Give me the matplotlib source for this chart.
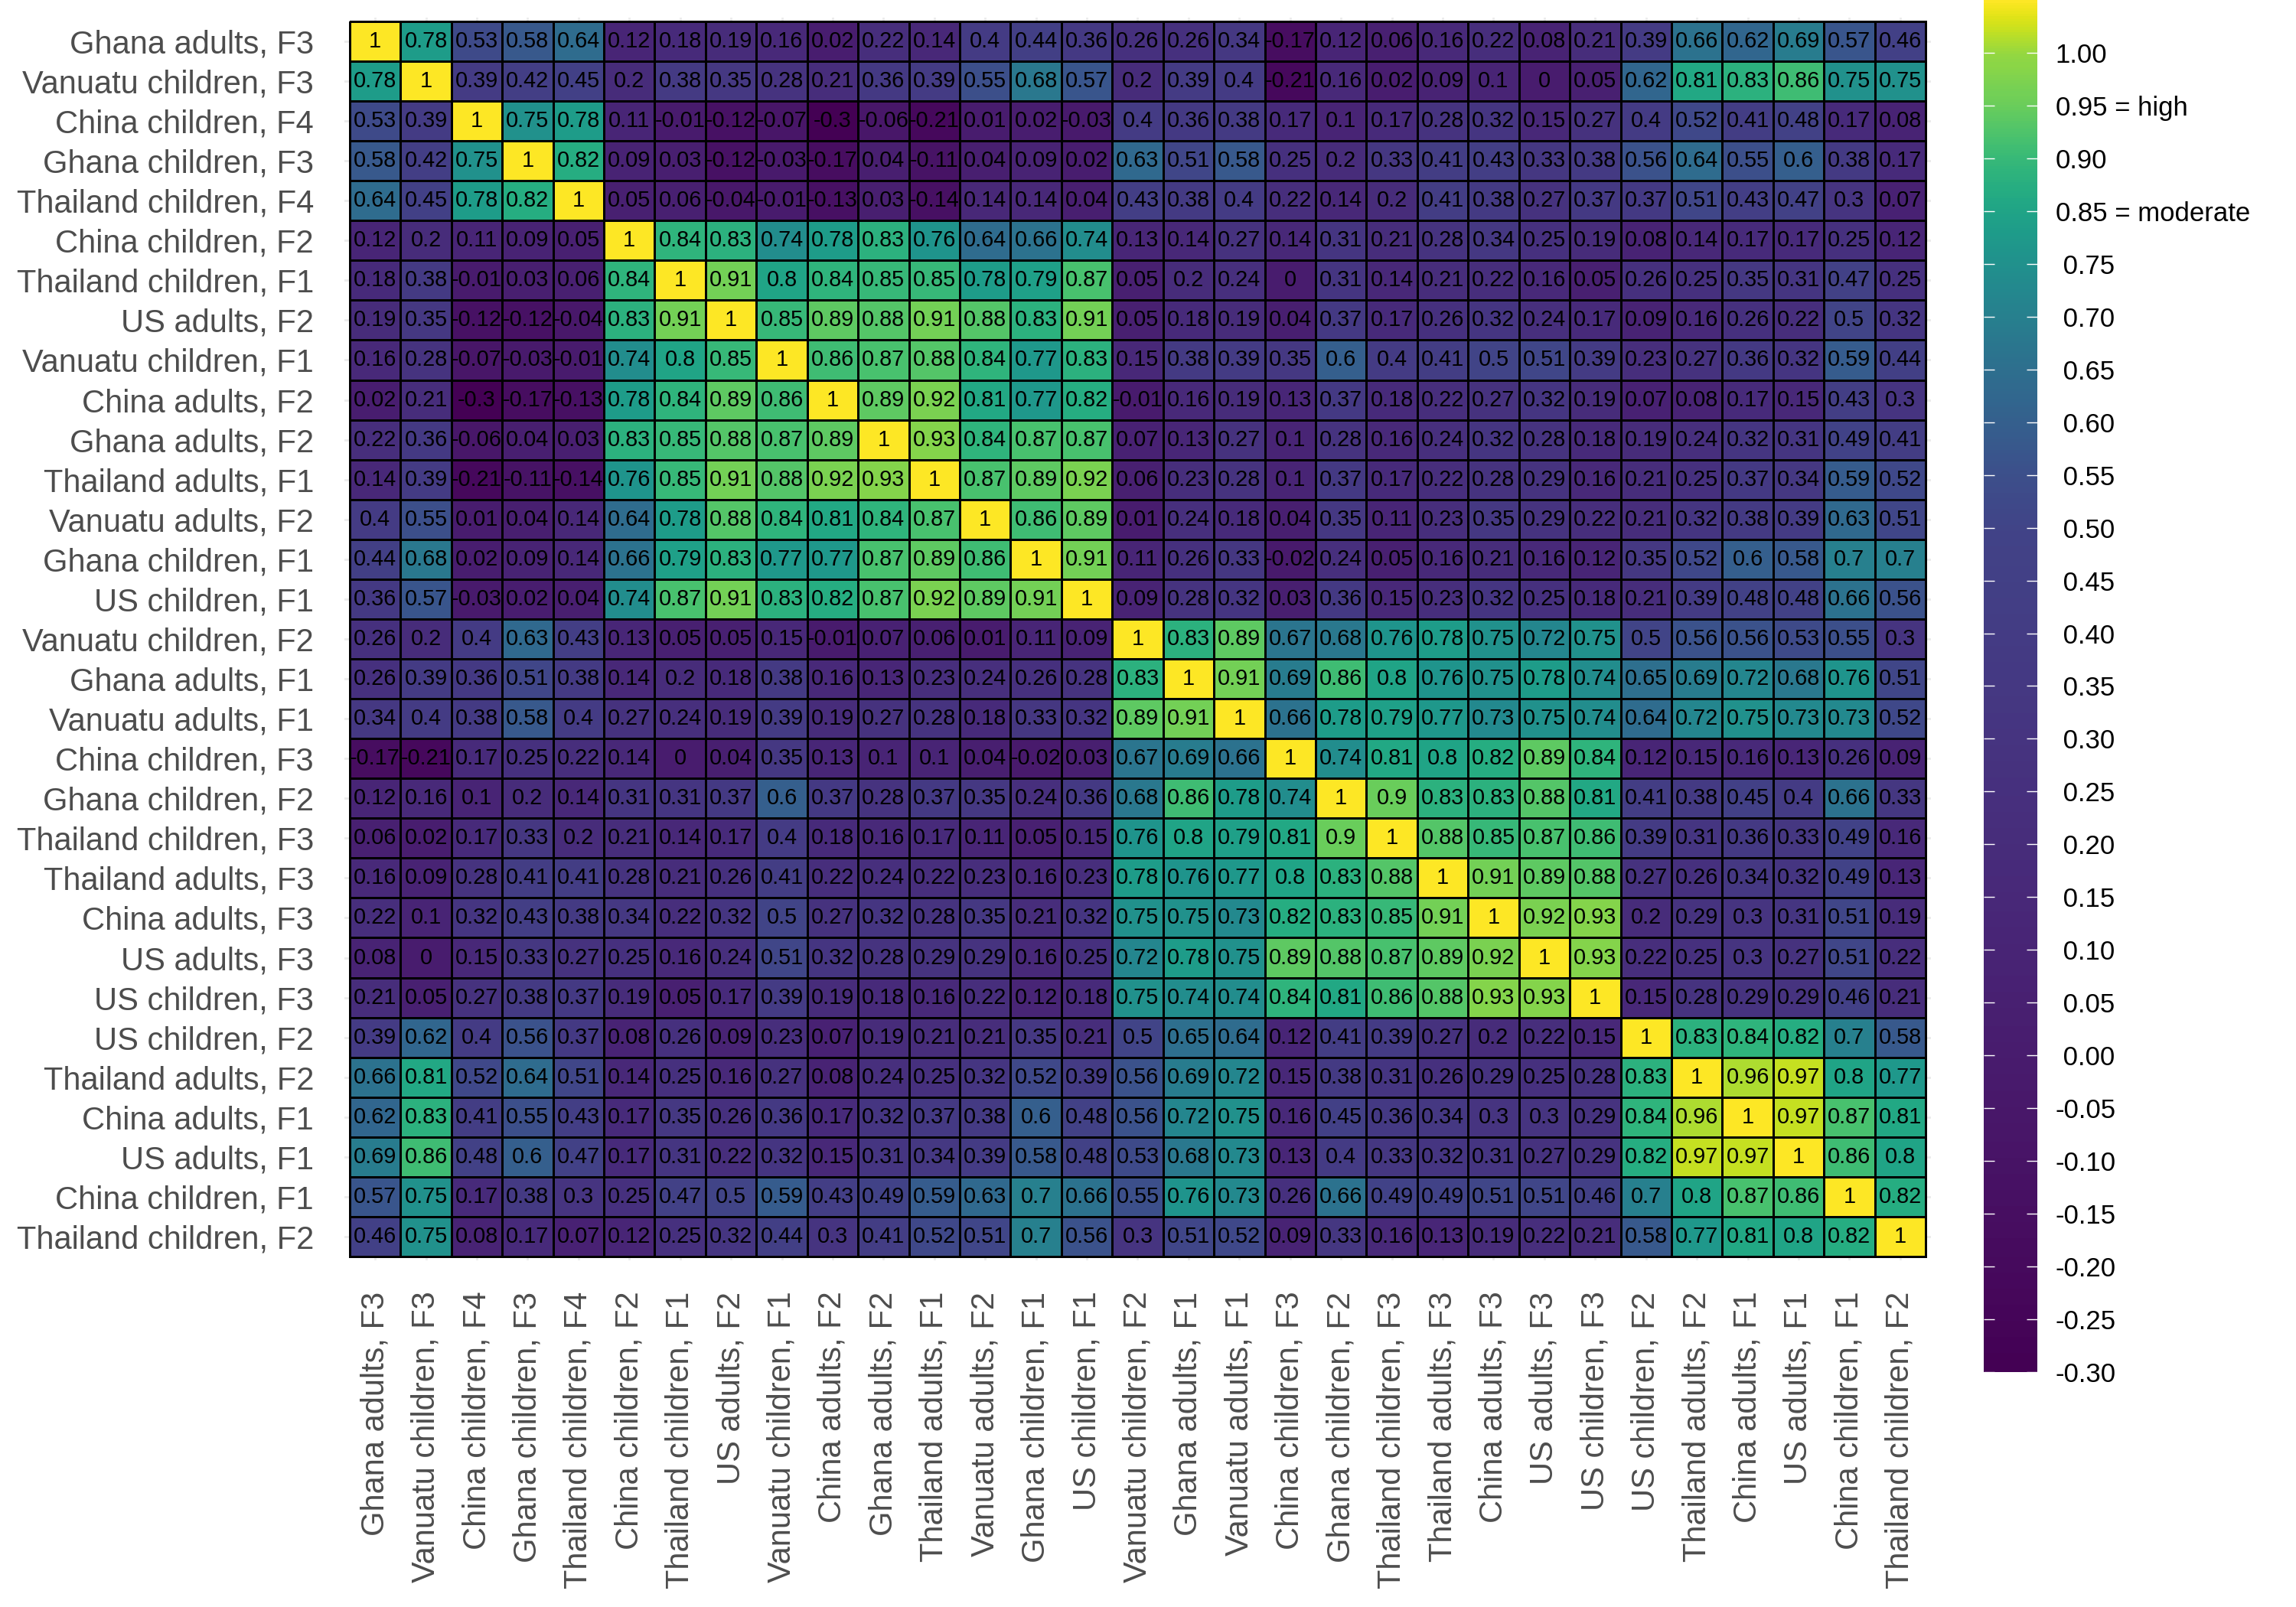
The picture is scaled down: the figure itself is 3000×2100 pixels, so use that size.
import matplotlib.pyplot as plt
import numpy as np
from matplotlib.colors import ListedColormap

# row / column order of the matrix (top to bottom, left to right)
labels = [
    'Ghana adults, F3', 'Vanuatu children, F3', 'China children, F4', 'Ghana children, F3',
    'Thailand children, F4', 'China children, F2', 'Thailand children, F1', 'US adults, F2',
    'Vanuatu children, F1', 'China adults, F2', 'Ghana adults, F2', 'Thailand adults, F1',
    'Vanuatu adults, F2', 'Ghana children, F1', 'US children, F1', 'Vanuatu children, F2',
    'Ghana adults, F1', 'Vanuatu adults, F1', 'China children, F3', 'Ghana children, F2',
    'Thailand children, F3', 'Thailand adults, F3', 'China adults, F3', 'US adults, F3',
    'US children, F3', 'US children, F2', 'Thailand adults, F2', 'China adults, F1',
    'US adults, F1', 'China children, F1', 'Thailand children, F2',
]

corr_rows = [
    [1, 0.78, 0.53, 0.58, 0.64, 0.12, 0.18, 0.19, 0.16, 0.02, 0.22, 0.14, 0.4, 0.44, 0.36, 0.26, 0.26, 0.34, -0.17, 0.12, 0.06, 0.16, 0.22, 0.08, 0.21, 0.39, 0.66, 0.62, 0.69, 0.57, 0.46],
    [0.78, 1, 0.39, 0.42, 0.45, 0.2, 0.38, 0.35, 0.28, 0.21, 0.36, 0.39, 0.55, 0.68, 0.57, 0.2, 0.39, 0.4, -0.21, 0.16, 0.02, 0.09, 0.1, 0, 0.05, 0.62, 0.81, 0.83, 0.86, 0.75, 0.75],
    [0.53, 0.39, 1, 0.75, 0.78, 0.11, -0.01, -0.12, -0.07, -0.3, -0.06, -0.21, 0.01, 0.02, -0.03, 0.4, 0.36, 0.38, 0.17, 0.1, 0.17, 0.28, 0.32, 0.15, 0.27, 0.4, 0.52, 0.41, 0.48, 0.17, 0.08],
    [0.58, 0.42, 0.75, 1, 0.82, 0.09, 0.03, -0.12, -0.03, -0.17, 0.04, -0.11, 0.04, 0.09, 0.02, 0.63, 0.51, 0.58, 0.25, 0.2, 0.33, 0.41, 0.43, 0.33, 0.38, 0.56, 0.64, 0.55, 0.6, 0.38, 0.17],
    [0.64, 0.45, 0.78, 0.82, 1, 0.05, 0.06, -0.04, -0.01, -0.13, 0.03, -0.14, 0.14, 0.14, 0.04, 0.43, 0.38, 0.4, 0.22, 0.14, 0.2, 0.41, 0.38, 0.27, 0.37, 0.37, 0.51, 0.43, 0.47, 0.3, 0.07],
    [0.12, 0.2, 0.11, 0.09, 0.05, 1, 0.84, 0.83, 0.74, 0.78, 0.83, 0.76, 0.64, 0.66, 0.74, 0.13, 0.14, 0.27, 0.14, 0.31, 0.21, 0.28, 0.34, 0.25, 0.19, 0.08, 0.14, 0.17, 0.17, 0.25, 0.12],
    [0.18, 0.38, -0.01, 0.03, 0.06, 0.84, 1, 0.91, 0.8, 0.84, 0.85, 0.85, 0.78, 0.79, 0.87, 0.05, 0.2, 0.24, 0, 0.31, 0.14, 0.21, 0.22, 0.16, 0.05, 0.26, 0.25, 0.35, 0.31, 0.47, 0.25],
    [0.19, 0.35, -0.12, -0.12, -0.04, 0.83, 0.91, 1, 0.85, 0.89, 0.88, 0.91, 0.88, 0.83, 0.91, 0.05, 0.18, 0.19, 0.04, 0.37, 0.17, 0.26, 0.32, 0.24, 0.17, 0.09, 0.16, 0.26, 0.22, 0.5, 0.32],
    [0.16, 0.28, -0.07, -0.03, -0.01, 0.74, 0.8, 0.85, 1, 0.86, 0.87, 0.88, 0.84, 0.77, 0.83, 0.15, 0.38, 0.39, 0.35, 0.6, 0.4, 0.41, 0.5, 0.51, 0.39, 0.23, 0.27, 0.36, 0.32, 0.59, 0.44],
    [0.02, 0.21, -0.3, -0.17, -0.13, 0.78, 0.84, 0.89, 0.86, 1, 0.89, 0.92, 0.81, 0.77, 0.82, -0.01, 0.16, 0.19, 0.13, 0.37, 0.18, 0.22, 0.27, 0.32, 0.19, 0.07, 0.08, 0.17, 0.15, 0.43, 0.3],
    [0.22, 0.36, -0.06, 0.04, 0.03, 0.83, 0.85, 0.88, 0.87, 0.89, 1, 0.93, 0.84, 0.87, 0.87, 0.07, 0.13, 0.27, 0.1, 0.28, 0.16, 0.24, 0.32, 0.28, 0.18, 0.19, 0.24, 0.32, 0.31, 0.49, 0.41],
    [0.14, 0.39, -0.21, -0.11, -0.14, 0.76, 0.85, 0.91, 0.88, 0.92, 0.93, 1, 0.87, 0.89, 0.92, 0.06, 0.23, 0.28, 0.1, 0.37, 0.17, 0.22, 0.28, 0.29, 0.16, 0.21, 0.25, 0.37, 0.34, 0.59, 0.52],
    [0.4, 0.55, 0.01, 0.04, 0.14, 0.64, 0.78, 0.88, 0.84, 0.81, 0.84, 0.87, 1, 0.86, 0.89, 0.01, 0.24, 0.18, 0.04, 0.35, 0.11, 0.23, 0.35, 0.29, 0.22, 0.21, 0.32, 0.38, 0.39, 0.63, 0.51],
    [0.44, 0.68, 0.02, 0.09, 0.14, 0.66, 0.79, 0.83, 0.77, 0.77, 0.87, 0.89, 0.86, 1, 0.91, 0.11, 0.26, 0.33, -0.02, 0.24, 0.05, 0.16, 0.21, 0.16, 0.12, 0.35, 0.52, 0.6, 0.58, 0.7, 0.7],
    [0.36, 0.57, -0.03, 0.02, 0.04, 0.74, 0.87, 0.91, 0.83, 0.82, 0.87, 0.92, 0.89, 0.91, 1, 0.09, 0.28, 0.32, 0.03, 0.36, 0.15, 0.23, 0.32, 0.25, 0.18, 0.21, 0.39, 0.48, 0.48, 0.66, 0.56],
    [0.26, 0.2, 0.4, 0.63, 0.43, 0.13, 0.05, 0.05, 0.15, -0.01, 0.07, 0.06, 0.01, 0.11, 0.09, 1, 0.83, 0.89, 0.67, 0.68, 0.76, 0.78, 0.75, 0.72, 0.75, 0.5, 0.56, 0.56, 0.53, 0.55, 0.3],
    [0.26, 0.39, 0.36, 0.51, 0.38, 0.14, 0.2, 0.18, 0.38, 0.16, 0.13, 0.23, 0.24, 0.26, 0.28, 0.83, 1, 0.91, 0.69, 0.86, 0.8, 0.76, 0.75, 0.78, 0.74, 0.65, 0.69, 0.72, 0.68, 0.76, 0.51],
    [0.34, 0.4, 0.38, 0.58, 0.4, 0.27, 0.24, 0.19, 0.39, 0.19, 0.27, 0.28, 0.18, 0.33, 0.32, 0.89, 0.91, 1, 0.66, 0.78, 0.79, 0.77, 0.73, 0.75, 0.74, 0.64, 0.72, 0.75, 0.73, 0.73, 0.52],
    [-0.17, -0.21, 0.17, 0.25, 0.22, 0.14, 0, 0.04, 0.35, 0.13, 0.1, 0.1, 0.04, -0.02, 0.03, 0.67, 0.69, 0.66, 1, 0.74, 0.81, 0.8, 0.82, 0.89, 0.84, 0.12, 0.15, 0.16, 0.13, 0.26, 0.09],
    [0.12, 0.16, 0.1, 0.2, 0.14, 0.31, 0.31, 0.37, 0.6, 0.37, 0.28, 0.37, 0.35, 0.24, 0.36, 0.68, 0.86, 0.78, 0.74, 1, 0.9, 0.83, 0.83, 0.88, 0.81, 0.41, 0.38, 0.45, 0.4, 0.66, 0.33],
    [0.06, 0.02, 0.17, 0.33, 0.2, 0.21, 0.14, 0.17, 0.4, 0.18, 0.16, 0.17, 0.11, 0.05, 0.15, 0.76, 0.8, 0.79, 0.81, 0.9, 1, 0.88, 0.85, 0.87, 0.86, 0.39, 0.31, 0.36, 0.33, 0.49, 0.16],
    [0.16, 0.09, 0.28, 0.41, 0.41, 0.28, 0.21, 0.26, 0.41, 0.22, 0.24, 0.22, 0.23, 0.16, 0.23, 0.78, 0.76, 0.77, 0.8, 0.83, 0.88, 1, 0.91, 0.89, 0.88, 0.27, 0.26, 0.34, 0.32, 0.49, 0.13],
    [0.22, 0.1, 0.32, 0.43, 0.38, 0.34, 0.22, 0.32, 0.5, 0.27, 0.32, 0.28, 0.35, 0.21, 0.32, 0.75, 0.75, 0.73, 0.82, 0.83, 0.85, 0.91, 1, 0.92, 0.93, 0.2, 0.29, 0.3, 0.31, 0.51, 0.19],
    [0.08, 0, 0.15, 0.33, 0.27, 0.25, 0.16, 0.24, 0.51, 0.32, 0.28, 0.29, 0.29, 0.16, 0.25, 0.72, 0.78, 0.75, 0.89, 0.88, 0.87, 0.89, 0.92, 1, 0.93, 0.22, 0.25, 0.3, 0.27, 0.51, 0.22],
    [0.21, 0.05, 0.27, 0.38, 0.37, 0.19, 0.05, 0.17, 0.39, 0.19, 0.18, 0.16, 0.22, 0.12, 0.18, 0.75, 0.74, 0.74, 0.84, 0.81, 0.86, 0.88, 0.93, 0.93, 1, 0.15, 0.28, 0.29, 0.29, 0.46, 0.21],
    [0.39, 0.62, 0.4, 0.56, 0.37, 0.08, 0.26, 0.09, 0.23, 0.07, 0.19, 0.21, 0.21, 0.35, 0.21, 0.5, 0.65, 0.64, 0.12, 0.41, 0.39, 0.27, 0.2, 0.22, 0.15, 1, 0.83, 0.84, 0.82, 0.7, 0.58],
    [0.66, 0.81, 0.52, 0.64, 0.51, 0.14, 0.25, 0.16, 0.27, 0.08, 0.24, 0.25, 0.32, 0.52, 0.39, 0.56, 0.69, 0.72, 0.15, 0.38, 0.31, 0.26, 0.29, 0.25, 0.28, 0.83, 1, 0.96, 0.97, 0.8, 0.77],
    [0.62, 0.83, 0.41, 0.55, 0.43, 0.17, 0.35, 0.26, 0.36, 0.17, 0.32, 0.37, 0.38, 0.6, 0.48, 0.56, 0.72, 0.75, 0.16, 0.45, 0.36, 0.34, 0.3, 0.3, 0.29, 0.84, 0.96, 1, 0.97, 0.87, 0.81],
    [0.69, 0.86, 0.48, 0.6, 0.47, 0.17, 0.31, 0.22, 0.32, 0.15, 0.31, 0.34, 0.39, 0.58, 0.48, 0.53, 0.68, 0.73, 0.13, 0.4, 0.33, 0.32, 0.31, 0.27, 0.29, 0.82, 0.97, 0.97, 1, 0.86, 0.8],
    [0.57, 0.75, 0.17, 0.38, 0.3, 0.25, 0.47, 0.5, 0.59, 0.43, 0.49, 0.59, 0.63, 0.7, 0.66, 0.55, 0.76, 0.73, 0.26, 0.66, 0.49, 0.49, 0.51, 0.51, 0.46, 0.7, 0.8, 0.87, 0.86, 1, 0.82],
    [0.46, 0.75, 0.08, 0.17, 0.07, 0.12, 0.25, 0.32, 0.44, 0.3, 0.41, 0.52, 0.51, 0.7, 0.56, 0.3, 0.51, 0.52, 0.09, 0.33, 0.16, 0.13, 0.19, 0.22, 0.21, 0.58, 0.77, 0.81, 0.8, 0.82, 1],
]

# colour bar labels, bottom to top (0.80 is skipped in the original legend)
cbar_labels = ['-0.30', '-0.25', '-0.20', '-0.15', '-0.10', '-0.05', ' 0.00', ' 0.05',
               ' 0.10', ' 0.15', ' 0.20', ' 0.25', ' 0.30', ' 0.35', ' 0.40', ' 0.45',
               ' 0.50', ' 0.55', ' 0.60', ' 0.65', ' 0.70', ' 0.75', '0.85 = moderate',
               '0.90', '0.95 = high', '1.00']

VMIN, VMAX = -0.30, 1.00


def squeezed_viridis():
    # viridis stretched so most of the colour change happens above ~0.5
    node_vals = [-0.30, 0.50, 0.55, 0.65, 0.75, 0.80, 0.85, 0.90, 0.95, 1.00]
    node_frac = [0.00, 0.20, 0.24, 0.36, 0.50, 0.58, 0.67, 0.77, 0.84, 1.00]
    grid = np.linspace(VMIN, VMAX, 512)
    base = plt.get_cmap('viridis')
    return ListedColormap(base(np.interp(grid, node_vals, node_frac)))


def main():
    plt.rcParams['font.family'] = ['Liberation Sans', 'DejaVu Sans']
    corr = np.array(corr_rows, dtype=float)
    n = len(labels)

    fig = plt.figure(figsize=(15, 10.5), dpi=200)
    ax = fig.add_axes([0.1501, 0.2156, 0.6908, 0.7736])

    # light grid behind the tiles, visible only in the small margin
    ax.set_axisbelow(True)
    ax.grid(True, color='#ebebeb', linewidth=1.0)

    edges = np.arange(n + 1) - 0.5
    mesh = ax.pcolormesh(edges, edges, corr, cmap=squeezed_viridis(), vmin=VMIN, vmax=VMAX,
                         edgecolors='black', linewidth=0.9)

    # cell values
    for i in range(n):
        for j in range(n):
            ax.text(j, i, '%g' % round(corr[i, j], 2), ha='center', va='center',
                    fontsize=10.4, color='black')

    ax.set_xlim(-0.6, n - 0.4)
    ax.set_ylim(n - 0.4, -0.6)
    ax.set_xticks(np.arange(n))
    ax.set_yticks(np.arange(n))
    ax.set_xticklabels(labels, rotation=90)
    ax.set_yticklabels(labels)
    ax.tick_params(length=0, pad=14.5, labelsize=15, labelcolor='#4d4d4d')
    for side in ax.spines.values():
        side.set_visible(False)

    # colour bar
    cax = fig.add_axes([0.864, 0.1462, 0.0233, 0.8538])
    cb = fig.colorbar(mesh, cax=cax)
    cb.outline.set_visible(False)
    cb.set_ticks(np.linspace(-0.30, 0.95, len(cbar_labels)))
    cb.set_ticklabels(cbar_labels)
    cax.tick_params(axis='y', direction='in', length=5, width=0.5, color='white',
                    left=True, right=True, labelleft=False, labelright=True,
                    labelsize=12.5, labelcolor='black', pad=8.6)

    fig.savefig('out.png', dpi=200, facecolor='white')


if __name__ == '__main__':
    main()
